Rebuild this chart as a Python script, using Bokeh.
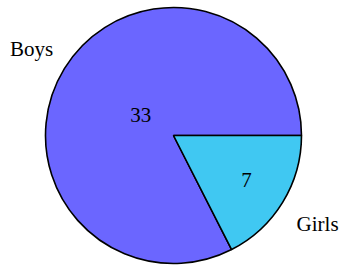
import math
from bokeh.plotting import figure
from bokeh.models import ColumnDataSource
from bokeh.core.properties import value
from bokeh.embed import file_html
from bokeh.resources import INLINE

categories = ["Boys", "Girls"]
counts = [33, 7]
colors = ["#6B66FF", "#40C8F2"]

# layout / style
CX, CY, R = 173, -135, 128
inner_frac = [0.30, 0.67]
outer_frac = [1.30, 1.32]
FONT = "Liberation Serif"

total = sum(counts)
girls_ang = counts[1] / total * 2 * math.pi
starts = [0.0, -girls_ang]
ends = [2 * math.pi - girls_ang, 0.0]
mids = [(s + e) / 2 for s, e in zip(starts, ends)]

src = ColumnDataSource(dict(
    x=[CX, CX], y=[CY, CY], start=starts, end=ends, color=colors,
))

p = figure(width=343, height=265, x_range=(0, 343), y_range=(-265, 0),
           output_backend="svg", toolbar_location=None, min_border=0)
p.axis.visible = False
p.grid.visible = False
p.outline_line_color = None
p.background_fill_color = "white"

p.wedge(x="x", y="y", radius=R, start_angle="start", end_angle="end",
        fill_color="color", line_color="black", line_width=1.6, source=src)

ix = [CX + R * f * math.cos(m) for f, m in zip(inner_frac, mids)]
iy = [CY + R * f * math.sin(m) for f, m in zip(inner_frac, mids)]
ox = [CX + R * f * math.cos(m) for f, m in zip(outer_frac, mids)]
oy = [CY + R * f * math.sin(m) for f, m in zip(outer_frac, mids)]

p.text(x=ix, y=iy, text=[str(c) for c in counts], text_font=value(FONT),
       text_font_size="21px", text_align="center", text_baseline="middle",
       text_color="black")
p.text(x=ox, y=oy, text=categories, text_font=value(FONT),
       text_font_size="21px", text_align="center", text_baseline="middle",
       text_color="black")

open("out.html", "w").write(file_html(p, INLINE))
